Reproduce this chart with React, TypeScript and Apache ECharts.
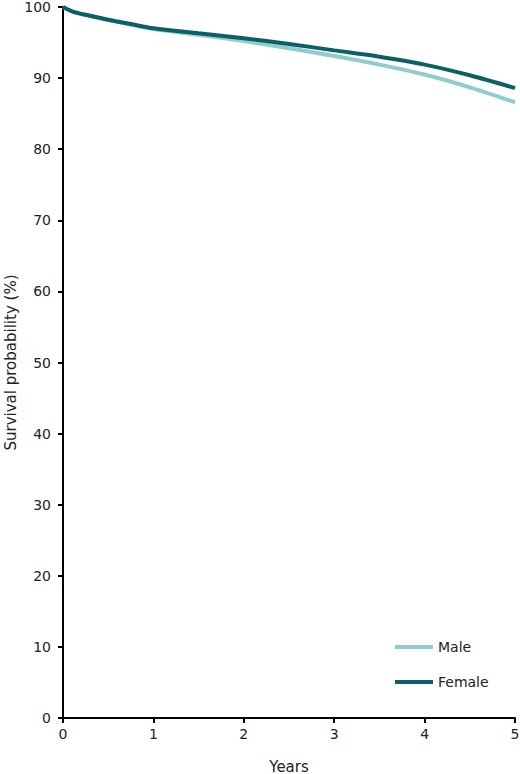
import React, { useEffect, useRef } from "react";
import * as echarts from "echarts";

const years = [0, 0.1, 0.25, 0.5, 0.75, 1, 1.5, 2, 2.5, 3, 3.5, 4, 4.5, 5];
const female = [100, 99.4, 98.9, 98.2, 97.6, 97.0, 96.3, 95.6, 94.8, 93.9, 93.0, 91.9, 90.4, 88.6];
const male = [100, 99.4, 98.9, 98.2, 97.5, 96.9, 96.1, 95.2, 94.2, 93.1, 91.9, 90.5, 88.7, 86.6];
const seriesNames = ["Male", "Female"];
const colors = ["#8fcdcd", "#0d5f66"];

export default function App() {
  const ref = useRef<HTMLDivElement>(null);
  useEffect(() => {
    const chart = echarts.init(ref.current!, null, { renderer: "svg" });
    const font = "DejaVu Sans, Verdana, sans-serif";
    chart.setOption({
      animation: false,
      grid: {
        left: 63,
        right: 5,
        top: 7,
        bottom: 56,
        containLabel: false,
        outerBoundsMode: "none",
      },
      legend: {
        orient: "vertical",
        left: 395,
        top: 640,
        padding: 0,
        itemWidth: 38,
        itemHeight: 4,
        itemGap: 21,
        icon: "rect",
        data: seriesNames,
        textStyle: { fontFamily: font, fontSize: 14, color: "#222" },
      },
      xAxis: {
        type: "value",
        min: 0,
        max: 5,
        interval: 1,
        name: "Years",
        nameLocation: "middle",
        nameGap: 41,
        nameMoveOverlap: false,
        nameTextStyle: { fontFamily: font, fontSize: 15, color: "#222" },
        axisLine: { show: true, lineStyle: { color: "#000", width: 2 } },
        axisTick: { show: true, length: 5, lineStyle: { color: "#000", width: 2 } },
        axisLabel: { fontFamily: font, fontSize: 14, color: "#222", margin: 9 },
        splitLine: { show: false },
      },
      yAxis: {
        type: "value",
        min: 0,
        max: 100,
        interval: 10,
        name: "Survival probability (%)",
        nameLocation: "middle",
        nameGap: 45,
        nameMoveOverlap: false,
        nameTextStyle: { fontFamily: font, fontSize: 15, color: "#222" },
        axisLine: { show: true, lineStyle: { color: "#000", width: 2 } },
        axisTick: { show: true, length: 5, lineStyle: { color: "#000", width: 2 } },
        axisLabel: { fontFamily: font, fontSize: 14, color: "#222", margin: 12 },
        splitLine: { show: false },
      },
      series: [
        {
          name: seriesNames[0],
          type: "line",
          data: years.map((y, i) => [y, male[i]]),
          smooth: 0.3,
          showSymbol: false,
          lineStyle: { width: 4, color: colors[0] },
          itemStyle: { color: colors[0] },
        },
        {
          name: seriesNames[1],
          type: "line",
          data: years.map((y, i) => [y, female[i]]),
          smooth: 0.3,
          showSymbol: false,
          lineStyle: { width: 4, color: colors[1] },
          itemStyle: { color: colors[1] },
        },
      ],
    });
    return () => chart.dispose();
  }, []);
  return (
    <div
      ref={ref}
      style={{ position: "fixed", left: 0, top: 0, width: 520, height: 774, background: "#fff" }}
    />
  );
}
